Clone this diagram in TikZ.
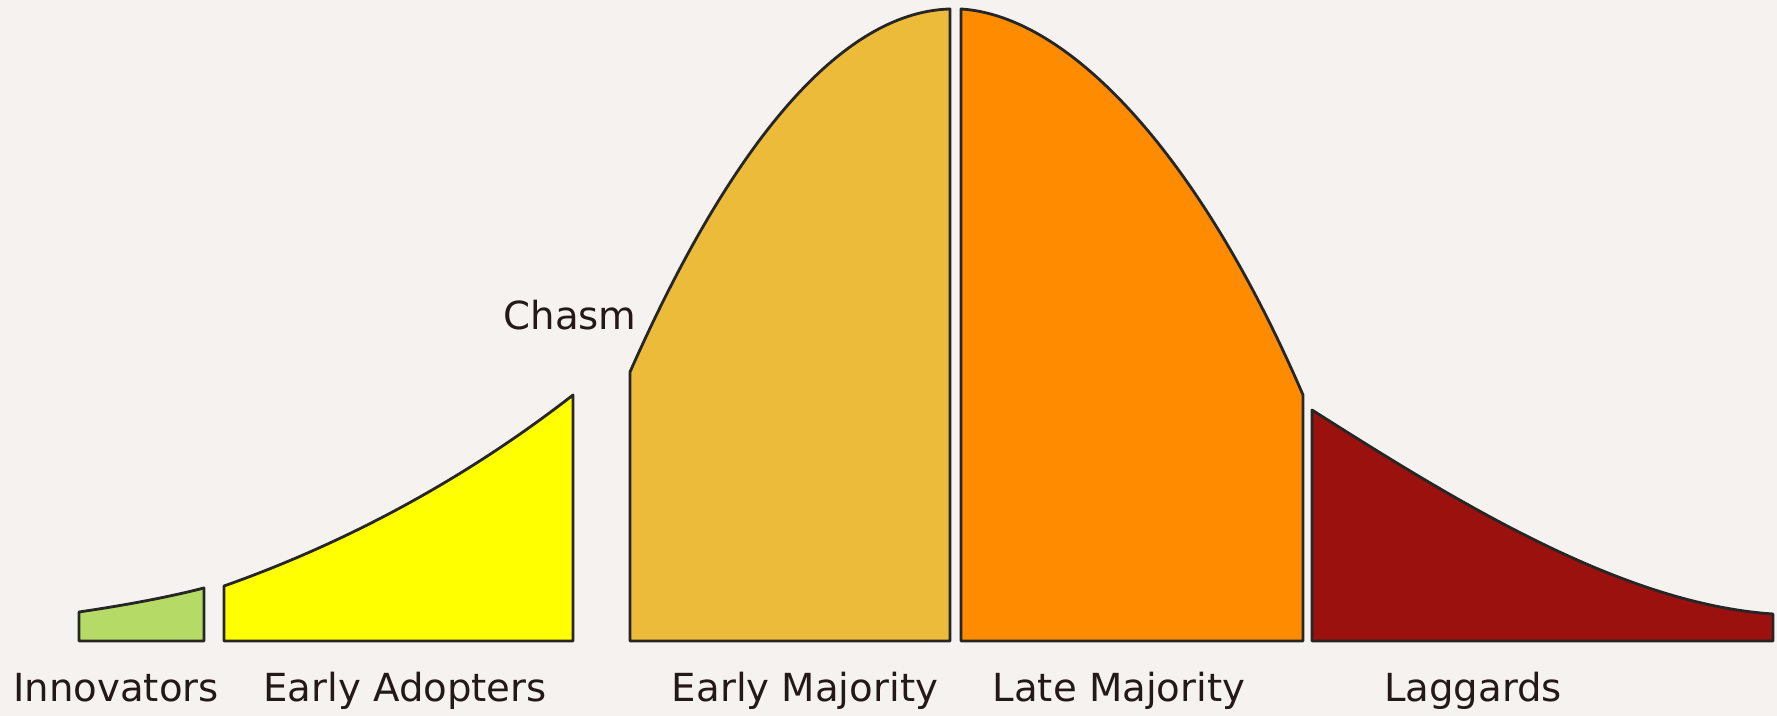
\documentclass[tikz,border=0pt]{standalone}
\usepackage{fontspec}
\setmainfont{DejaVu Sans}
\definecolor{bgcol}{RGB}{245,242,239}
\definecolor{innocol}{RGB}{181,219,102}
\definecolor{adoptcol}{RGB}{255,255,0}
\definecolor{earlymajcol}{RGB}{237,187,58}
\definecolor{latemajcol}{RGB}{255,140,0}
\definecolor{laggcol}{RGB}{155,17,14}
\definecolor{txtcol}{RGB}{35,26,24}
\begin{document}
\begin{tikzpicture}[x=0.1mm,y=0.1mm,
    segment/.style={draw=black!85, line width=0.8pt, line join=round},
    grouplabel/.style={text=txtcol, font=\fontsize{11}{13}\selectfont, inner sep=0pt, anchor=base}]
                    % Background
                    \fill[bgcol] (0,0) rectangle (1777,716);
                    \useasboundingbox (0,0) rectangle (1777,716);
                    % Left-hand Segments
                    \draw[segment, fill=innocol] (79,75) -- (79,104) .. controls (120,110) and (165,118) .. (204,128) -- (204,75) -- cycle;
                    \draw[segment, fill=adoptcol] (224,75) -- (224,130) .. controls (340,171) and (460,233) .. (573,321) -- (573,75) -- cycle;
                    \draw[segment, fill=earlymajcol] (630,75) -- (630,344) .. controls (730,570) and (840,704) .. (950,707) -- (950,75) -- cycle;
                    % Right-hand Segments
                    \draw[segment, fill=latemajcol] (961,75) -- (961,707) .. controls (1070,700) and (1200,560) .. (1303,321) -- (1303,75) -- cycle;
                    \draw[segment, fill=laggcol] (1312,75) -- (1312,306) .. controls (1460,212) and (1623,112) .. (1773,102) -- (1773,75) -- cycle;
                    % Labels
                    \node[grouplabel] (chasm) at (570,386) {Chasm};
                    \node[grouplabel] (innovators) at (116,14) {Innovators};
                    \node[grouplabel] (adopters) at (405,14) {Early Adopters};
                    \node[grouplabel] (earlymaj) at (805,14) {Early Majority};
                    \node[grouplabel] (latemaj) at (1119,14) {Late Majority};
                    \node[grouplabel] (laggards) at (1473,14) {Laggards};
                \end{tikzpicture}
\end{document}
